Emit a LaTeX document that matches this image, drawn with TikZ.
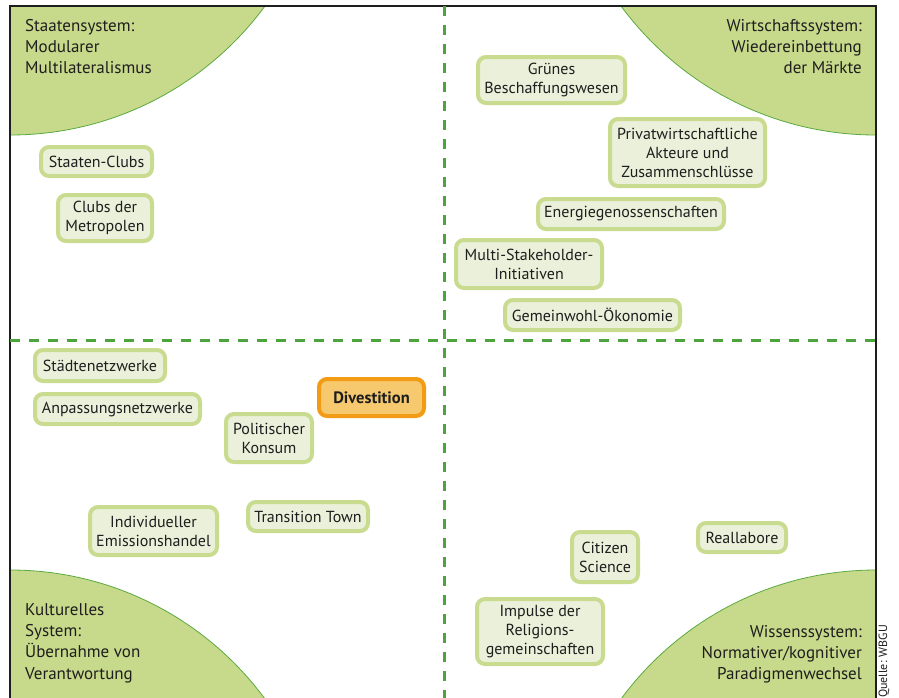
\documentclass[tikz,border=0pt]{standalone}
\usepackage{fontspec}
\setmainfont{PT Sans}
\definecolor{ink}{HTML}{1E1E1E}
\definecolor{boxfill}{HTML}{EBF0DA}
\definecolor{boxline}{HTML}{C8DB8E}
\definecolor{hotfill}{HTML}{F6C96E}
\definecolor{hotline}{HTML}{F29B14}
\definecolor{arcfill}{HTML}{C7D98A}
\definecolor{arcline}{HTML}{5BAA3F}
\definecolor{quadgreen}{HTML}{4DA43C}

\begin{document}
\begin{tikzpicture}[x=1pt, y=-1pt,
    every node/.style={font=\fontsize{16}{19}\selectfont, text=ink, inner sep=0pt},
    box/.style={draw=boxline, fill=boxfill, line width=4pt, rounded corners=8pt, align=center},
    hotbox/.style={box, draw=hotline, fill=hotfill, font=\fontsize{16.5}{19}\selectfont\bfseries},
    corner/.style={font=\fontsize{17}{21.3}\selectfont},
    quadline/.style={draw=quadgreen, line width=3pt, dash pattern=on 10pt off 9pt}]
      \useasboundingbox (0,0) rectangle (899,697);

      % Corner areas
      \begin{scope}
        \clip (10,6) rectangle (876,697);
        \filldraw[fill=arcfill, draw=arcline, line width=0.8pt] (10,-181.5) circle (316.5);
        \filldraw[fill=arcfill, draw=arcline, line width=0.8pt] (876,-181.5) circle (316.5);
        \filldraw[fill=arcfill, draw=arcline, line width=0.8pt] (10,886.5) circle (316.5);
        \filldraw[fill=arcfill, draw=arcline, line width=0.8pt] (876,886.5) circle (316.5);
      \end{scope}

      % Frame and quadrants
      \draw[ink, line width=1.5pt] (10,700) -- (10,6) -- (876,6) -- (876,700);
      \draw[quadline] (444,6) -- (444,700);
      \draw[quadline] (10,340) -- (876,340);

      % Corner labels
      \node[corner, anchor=north west, align=left] (staaten) at (25,19) {Staatensystem:\\Modularer\\Multilateralismus};
      \node[corner, anchor=north east, align=right] (wirtschaft) at (862,19) {Wirtschaftssystem:\\Wiedereinbettung\\der Märkte};
      \node[corner, anchor=north west, align=left] (kultur) at (25,603) {Kulturelles\\System:\\Übernahme von\\Verantwortung};
      \node[corner, anchor=north east, align=right] (wissen) at (862,625) {Wissenssystem:\\Normativer/kognitiver\\Paradigmenwechsel};

      % Nodes
      \node[box, minimum width=111, minimum height=29] (clubs) at (96.5,161.5) {Staaten-Clubs};
      \node[box, minimum width=94, minimum height=46] (metropolen) at (105,218) {Clubs der\\Metropolen};
      \node[box, minimum width=147, minimum height=46] (beschaffung) at (551.5,80) {Grünes\\Beschaffungswesen};
      \node[box, minimum width=155, minimum height=67] (privat) at (687.5,152.5) {Privatwirtschaftliche\\Akteure und\\Zusammenschlüsse};
      \node[box, minimum width=186, minimum height=30] (energie) at (631,214) {Energiegenossenschaften};
      \node[box, minimum width=146, minimum height=48] (multi) at (529,264) {Multi-Stakeholder-\\Initiativen};
      \node[box, minimum width=175, minimum height=30] (gemeinwohl) at (592.5,315) {Gemeinwohl-Ökonomie};
      \node[box, minimum width=130, minimum height=31] (staedte) at (100,365.5) {Städtenetzwerke};
      \node[box, minimum width=165, minimum height=30] (anpassung) at (117.5,409) {Anpassungsnetzwerke};
      \node[box, minimum width=86, minimum height=48] (konsum) at (269,438) {Politischer\\Konsum};
      \node[hotbox, minimum width=105, minimum height=37] (divest) at (371.5,397.5) {Divestition};
      \node[box, minimum width=127, minimum height=48] (emission) at (153.5,531) {Individueller\\Emissionshandel};
      \node[box, minimum width=120, minimum height=29] (transition) at (308,516.5) {Transition Town};
      \node[box, minimum width=66, minimum height=50] (citizen) at (605,557) {Citizen\\Science};
      \node[box, minimum width=88, minimum height=29] (reallabore) at (742,537.5) {Reallabore};
      \node[box, minimum width=126, minimum height=65] (religion) at (540,631.5) {Impulse der\\Religions-\\gemeinschaften};

      % Source
      \node[rotate=90, anchor=west, font=\fontsize{12}{14}\selectfont] (quelle) at (884,698) {Quelle: WBGU};
    \end{tikzpicture}
\end{document}
